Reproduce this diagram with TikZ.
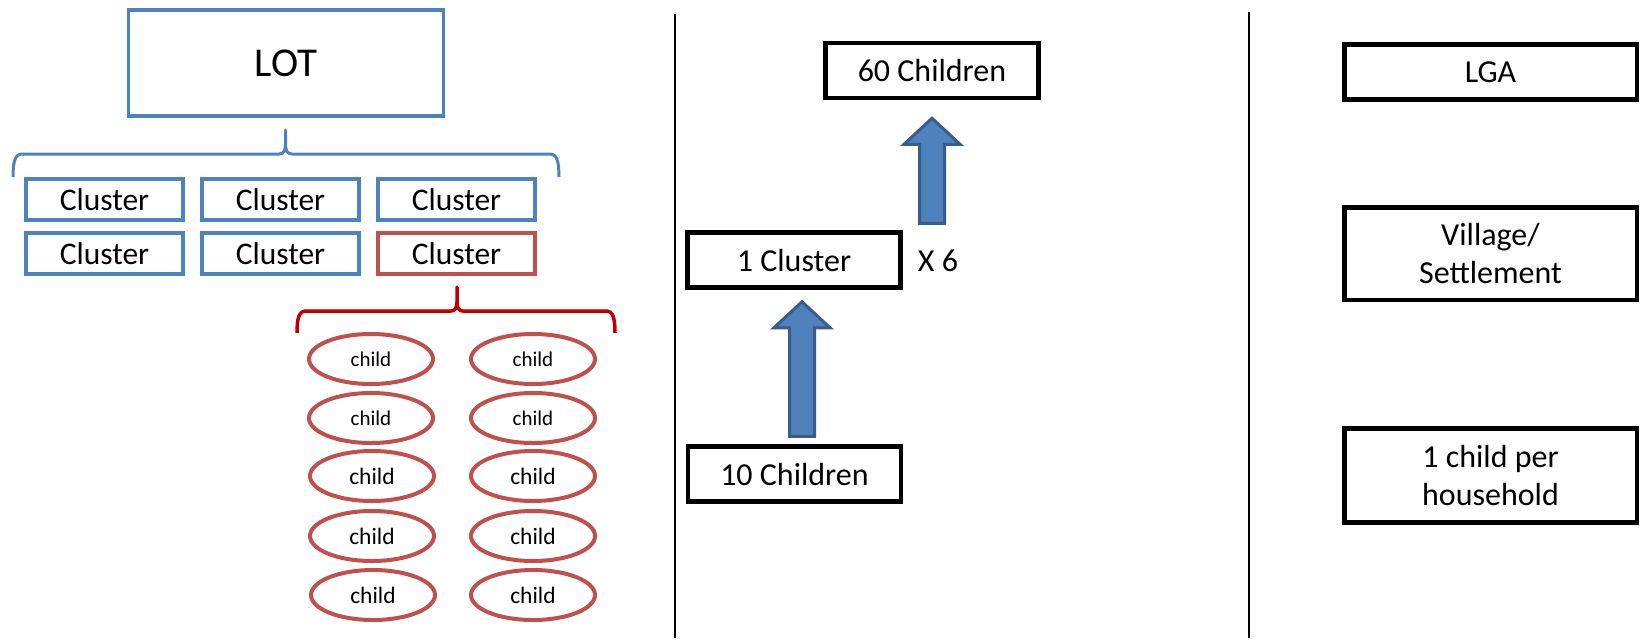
\documentclass[tikz,border=0pt]{standalone}
\usepackage{fontspec}
\setmainfont{Carlito}
\usetikzlibrary{shapes.geometric,calc}
\definecolor{lotblue}{HTML}{4F81BD}
\definecolor{lotred}{HTML}{C0504D}
\definecolor{bracered}{HTML}{C00000}
\definecolor{arrowedge}{HTML}{385D8A}
\begin{document}
\begin{tikzpicture}[x=1pt,y=-1pt,
  bluebox/.style={draw=lotblue,line width=3.5pt,inner sep=0pt,minimum width=157pt,minimum height=41pt,font=\fontsize{31.5}{37}\selectfont},
  redbox/.style={bluebox,draw=lotred},
  childnode/.style={draw=lotred,ellipse,line width=4pt,inner sep=0pt,minimum width=124pt,minimum height=50pt,font=\fontsize{21}{25}\selectfont},
  bigchild/.style={childnode,font=\fontsize{23.5}{28}\selectfont},
  blackbox/.style={draw,line width=4.5pt,inner sep=0pt,minimum width=213pt,minimum height=55pt,align=center,font=\fontsize{32}{38}\selectfont},
  blockarrow/.style={draw=arrowedge,fill=lotblue,line width=3pt,
    to path={let \p1=(\tikztostart), \p2=(\tikztotarget) in
      (\x1-12.5pt,\y1) -- (\x1-12.5pt,\y2-26pt) -- (\x1-28pt,\y2-26pt) -- (\x1,\y2)
      -- (\x1+28pt,\y2-26pt) -- (\x1+12.5pt,\y2-26pt) -- (\x1+12.5pt,\y1) -- cycle}},
  sepline/.style={line width=2pt}]
\useasboundingbox (0,0) rectangle (1645,638);
% left part
\node[bluebox,minimum width=315pt,minimum height=106pt,font=\fontsize{41}{49}\selectfont] (lot) at (286,63) {LOT};
\node[bluebox] (c1) at (104.5,199.5) {Cluster};
\node[bluebox] (c2) at (280.5,199.5) {Cluster};
\node[bluebox] (c3) at (456.5,199.5) {Cluster};
\node[bluebox] (c4) at (104.5,253.5) {Cluster};
\node[bluebox] (c5) at (280.5,253.5) {Cluster};
\node[redbox] (c6) at (456.5,253.5) {Cluster};
\draw[lotblue,line width=3pt,line join=round] (13,177) .. controls (13,162) and (15,154) .. (22,154) -- (279,154)
  .. controls (284,154) and (285.5,150) .. (285.5,144) -- (285.5,130) -- (285.5,144)
  .. controls (285.5,150) and (287,154) .. (292,154) -- (550,154) .. controls (557,154) and (559,162) .. (559,177);
\draw[bracered,line width=3.5pt,line join=round] (297,333) .. controls (297,318) and (299,311) .. (306,311) -- (451,311)
  .. controls (455,311) and (457,308) .. (457,302) -- (457,287) -- (457,302)
  .. controls (457,308) and (459,311) .. (463,311) -- (606,311) .. controls (613,311) and (615,318) .. (615,333);
\node[childnode] (k1) at (371,359) {child};
\node[childnode] (k2) at (533,359) {child};
\node[childnode] (k3) at (371,418) {child};
\node[childnode] (k4) at (533,418) {child};
\node[bigchild] (k5) at (372,476) {child};
\node[bigchild] (k6) at (533,476) {child};
\node[bigchild] (k7) at (372,536) {child};
\node[bigchild] (k8) at (533,536) {child};
\node[bigchild] (k9) at (373,595) {child};
\node[bigchild] (k10) at (533,595) {child};
% middle part
\draw[sepline] (675,14) -- (675,638);
\node[blackbox] (sixty) at (932,70.5) {60 Children};
\node[blackbox] (onecl) at (794,260) {1 Cluster};
\node[blackbox] (ten) at (794.5,474) {10 Children};
\node[font=\fontsize{32}{38}\selectfont] (times) at (938,261) {X 6};
\draw[blockarrow] ([xshift=7.5pt,yshift=8pt]ten.north) to ([xshift=7.5pt,yshift=-12pt]onecl.south);
\draw[blockarrow] ([yshift=7pt]sixty.south |- onecl.north) to ([yshift=-18pt]sixty.south);
% right part
\draw[sepline] (1249,12) -- (1249,638);
\node[blackbox,minimum width=292.5pt] (lga) at (1490.5,72) {LGA};
\node[blackbox,minimum width=292.5pt,minimum height=92.5pt] (village) at (1490.5,253.5) {Village/\\Settlement};
\node[blackbox,minimum width=292.5pt,minimum height=94pt] (house) at (1490.5,475.5) {1 child per\\household};
\end{tikzpicture}
\end{document}
